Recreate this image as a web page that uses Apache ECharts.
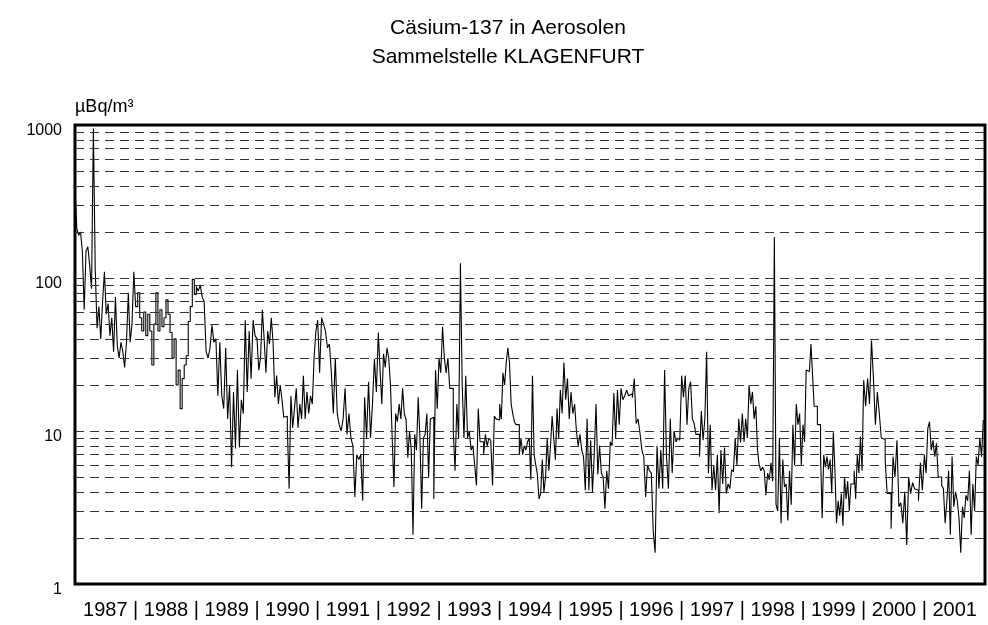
<!DOCTYPE html>
<html>
<head>
<meta charset="utf-8">
<title>Cäsium-137 in Aerosolen</title>
<script src="https://cdn.jsdelivr.net/npm/echarts@6/dist/echarts.min.js"></script>
<style>
  html, body { margin: 0; padding: 0; background: #fff; }
  #chart { width: 988px; height: 625px; }
</style>
</head>
<body>
<div id="chart"></div>
<script>
// Jahre (Achsenbeschriftung)
const years = ['1987', '1988', '1989', '1990', '1991', '1992', '1993', '1994',
  '1995', '1996', '1997', '1998', '1999', '2000', '2001'];

const v1987 = [400, 210, 190, 200, 150, 62, 150, 160, 120, 85, 950, 115, 47, 65, 40, 70, 110, 58, 68, 42, 55, 33, 75, 36, 30, 38, 33, 26, 38, 80, 38, 50, 110];
const v1988 = [65, 80, 55, 45, 60, 42, 58, 45, 27, 50, 80, 45, 62, 48, 55, 72, 58, 44, 30, 40, 20, 25, 14, 22, 27, 31, 52, 65, 98, 78];
const v1989 = [88, 82, 90, 75, 70, 33, 30, 35, 49, 38, 40, 17, 38, 17, 14, 35, 12, 20, 5.8, 18, 7.7, 25, 7.8, 16, 13, 53, 18, 45, 22, 53, 42];
const v1990 = [40, 25, 30, 62, 40, 24, 45, 37, 55, 38, 16.6, 23, 15, 20, 16, 12.3, 12.5, 10.5, 4.2, 17, 10.5, 14, 19, 10.5, 15, 12, 23, 12, 18, 13, 17, 15, 30, 45];
const v1991 = [53, 24, 55, 50, 45, 35, 37, 24, 13, 30, 13, 11, 10, 12, 19, 9.5, 13, 9, 8, 3.7, 7, 6.5, 7, 3.5, 16.6, 9, 21, 9, 15, 29.5, 18];
const v1992 = [44, 25, 15, 32, 26, 35, 30, 20, 9, 4.3, 13, 11.5, 15, 12, 19, 13, 11.8, 6.7, 10, 7.5, 2.1, 9.5, 7.5, 16.6, 9, 3.1, 9, 9.5, 13, 5, 12, 12.3, 3.6, 25, 14];
const v1993 = [30, 24, 48, 30, 24, 30, 19, 19, 10, 5.5, 15, 9, 125, 20, 9, 23, 9, 10, 7.5, 8, 6, 4.4, 14, 8.5, 8.5, 7, 9.5, 8, 9, 8.7, 4.4, 12.5, 12, 11.8];
const v1994 = [15, 12, 24, 20, 28, 35, 28, 15, 13, 11.5, 11, 11, 7, 9, 7, 8, 7.5, 8.5, 9, 4.8, 23, 7, 6, 5.2, 3.6, 3.9, 6.5, 4, 5, 9, 5.5, 8, 12.5, 9, 6.5, 14, 9];
const v1995 = [18.5, 13, 28, 16, 22, 12, 18, 13, 15, 10, 8, 9.5, 7.5, 6.8, 4.1, 12, 4.1, 8.7, 4, 7, 15, 5.2, 8, 5.3, 5, 3.1, 5.5, 4.2, 8.5, 8, 17.7, 9, 18.5, 11];
const v1996 = [19, 16, 17, 18.5, 17, 17.5, 16.5, 22, 11.2, 12, 9.7, 7.5, 6.8, 3.7, 6, 5.5, 5.3, 2.2, 1.6, 8, 4.2, 7.5, 4.2, 25, 6.8, 4.2, 12, 5.3, 10, 8.5, 9, 8.7];
const v1997 = [23, 16.6, 23, 11, 19, 21, 12, 11.2, 9.5, 9.5, 6.8, 13.5, 8.7, 12, 33, 5.3, 11, 4.1, 6, 4.1, 7, 2.9, 7.5, 4.5, 7.8, 3.9, 4.5, 4.2, 5.6, 5.4, 9, 6, 12, 8.4];
const v1998 = [13, 8.5, 12, 9, 20, 15, 18, 12, 14.5, 7.5, 6, 5.5, 5.8, 5.5, 3.8, 5.3, 4.8, 6.2, 4.7, 185, 3.3, 3, 9, 2.5, 6.5, 4.3, 4.5, 2.6, 5.5, 3.3, 11, 6, 15, 11, 13, 6];
const v1999 = [11, 8.5, 25, 24.5, 25, 37, 23, 14.5, 14.5, 11, 11, 7, 2.7, 7, 5.8, 6.8, 5.6, 6.5, 3.9, 9.8, 5.5, 2.5, 3.5, 2.8, 3.9, 2.4, 5, 3.6, 4.7, 3, 4.5, 4.5, 5.5, 3.6, 7, 5.3, 9.2, 5.5];
const v2000 = [21.5, 14.5, 22, 15, 39, 22, 11, 18, 13, 9, 8.8, 6.4, 3.9, 3.9, 2.3, 6.8, 5, 8.7, 3.2, 3.4, 2.5, 4, 1.8, 5, 3.9, 4.6, 4.2, 4.1, 3.5, 6.2, 4.1];
const v2001 = [7, 5.3, 10.4, 11.5, 7.5, 8.7, 6.8, 8.3, 5, 5, 4.4, 4.2, 2.5, 3.5, 5.5, 2.1, 6.8, 3.2, 4, 3.5, 2.7, 1.6, 3.2, 2.7, 3.8, 3.5, 5.5, 2.1, 4.5, 3, 6.8, 6, 9, 6.8, 11.7];

// gestrichelte Hilfslinien (log. Teilung)
const gridValues = [2, 3, 4, 5, 6, 7, 8, 9, 10, 20, 30, 40, 50, 60, 70, 80, 90, 100,
  200, 300, 400, 500, 600, 700, 800, 900];

const yearValues = [v1987, v1988, v1989, v1990, v1991, v1992, v1993, v1994,
  v1995, v1996, v1997, v1998, v1999, v2000, v2001];

// x = Jahr-Index + Anteil im Jahr
let data = [];
yearValues.forEach(function (arr, i) {
  arr.forEach(function (v, k) {
    data.push([i + k / arr.length, v]);
  });
});
data.push([years.length, v2001[v2001.length - 1]]);

const font = "'Liberation Sans', Arial, sans-serif";
let chart = echarts.init(document.getElementById('chart'));

let option = {
  animation: false,
  backgroundColor: '#fff',
  graphic: [
    {
      type: 'text', x: 508, y: 39,
      style: { text: 'Cäsium-137 in Aerosolen', font: '21px ' + font, fill: '#000', textAlign: 'center', textVerticalAlign: 'bottom' }
    },
    {
      type: 'text', x: 508, y: 68,
      style: { text: 'Sammelstelle KLAGENFURT', font: '21px ' + font, fill: '#000', textAlign: 'center', textVerticalAlign: 'bottom' }
    }
  ],
  grid: {
    left: 75,
    right: -2,
    top: 125,
    bottom: 41,
    show: true,
    borderColor: '#000',
    borderWidth: 3
  },
  xAxis: {
    type: 'value',
    min: 0,
    max: years.length,
    interval: 0.5,
    axisLine: { show: false },
    axisTick: { show: false },
    splitLine: { show: false },
    axisLabel: {
      margin: 16,
      fontSize: 20,
      fontFamily: font,
      color: '#000',
      showMinLabel: true,
      showMaxLabel: true,
      formatter: function (v) {
        if (v <= 0 || v >= years.length) return '';
        if (Math.abs(v - Math.round(v)) < 0.01) return '|';
        return years[Math.floor(v)];
      }
    }
  },
  yAxis: {
    type: 'log',
    logBase: 10,
    min: 1,
    max: 1000,
    name: 'µBq/m³',
    nameLocation: 'end',
    nameGap: 9,
    nameTextStyle: { fontSize: 18, fontFamily: font, color: '#000', align: 'left' },
    axisLine: { show: false },
    axisTick: { show: false },
    splitLine: { show: false },
    axisLabel: {
      margin: 13,
      fontSize: 16,
      fontFamily: font,
      color: '#000',
      verticalAlign: 'top',
      lineHeight: 12,
      formatter: function (v) { return String(Math.round(v)); }
    }
  },
  series: [
    {
      type: 'line',
      step: 'end',
      data: data,
      showSymbol: false,
      symbol: 'none',
      lineStyle: { color: '#000', width: 1.1 },
      markLine: {
        silent: true,
        symbol: 'none',
        label: { show: false },
        lineStyle: { color: '#333', width: 1, type: [9, 6] },
        data: gridValues.map(function (v) { return { yAxis: v }; })
      },
      z: 3
    }
  ]
};
chart.setOption(option);
</script>
</body>
</html>
